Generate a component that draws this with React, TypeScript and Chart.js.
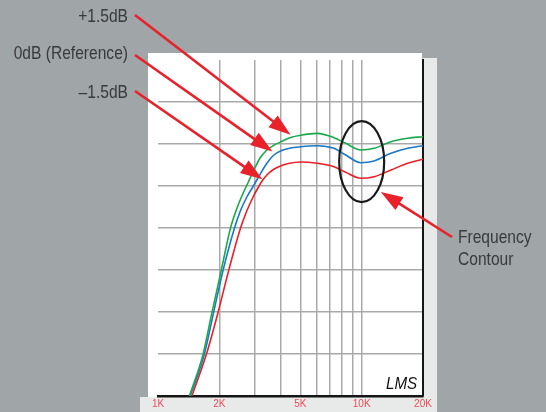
import { useEffect, useRef } from "react";
import { Chart, registerables } from "chart.js";

Chart.register(...registerables);

// ---- Data (frequency in Hz, level in dB) ----
const greenFreq = [1427, 1661, 1839, 2042, 2264, 2423, 2594, 2777, 2973, 3182, 3406, 3688, 4038, 4473, 5010, 6056, 7311, 8349, 9898, 11509, 13914, 16817, 20000];
const greenDb = [-40, -35.1, -30.1, -25.1, -20.1, -17.86, -16.07, -14.52, -12.98, -11.61, -10.77, -10.18, -9.7, -9.23, -8.95, -8.73, -9.25, -9.92, -10.71, -10.51, -9.73, -9.32, -9.13];

const blueFreq = [1438, 1686, 1873, 2084, 2369, 2536, 2730, 2939, 3146, 3330, 3504, 3709, 3993, 4372, 5010, 6056, 7311, 8349, 9898, 11509, 13914, 16817, 20000];
const blueDb = [-40, -35.1, -30.1, -25.1, -20.1, -17.98, -16.31, -15.0, -13.75, -12.74, -11.96, -11.31, -10.83, -10.54, -10.33, -10.2, -10.51, -11.31, -12.23, -12.02, -11.11, -10.51, -10.2];

const redFreq = [1466, 1725, 1969, 2221, 2536, 2715, 2906, 3093, 3255, 3445, 3688, 3993, 4372, 5010, 6056, 7311, 8349, 9898, 11509, 13914, 16817, 20000];
const redDb = [-40, -35.1, -30.1, -25.1, -20.1, -18.1, -16.49, -15.24, -14.35, -13.63, -13.04, -12.62, -12.32, -12.14, -12.3, -12.7, -13.37, -14.08, -13.89, -13.1, -12.3, -11.82];

const tickValues = [1000, 2000, 3000, 4000, 5000, 6000, 7000, 8000, 9000, 10000, 20000];
const labeledTicks = [1000, 2000, 5000, 10000, 20000];
const labelTexts = ["1K", "2K", "5K", "10K", "20K"];

const calloutTexts = ["+1.5dB", "0dB (Reference)", "\u20131.5dB"];
const calloutTargetFreq = [4473, 3646, 3254];
const calloutTargetDb = [-8.9, -10.9, -14.2];

const contourText = ["Frequency", "Contour"];
const contourTargetFreq = 12420;
const contourTargetDb = -15.7;
const ellipseFreq = 10000;
const ellipseDb = -12.1;

const SANS = '"Liberation Sans", Arial, sans-serif';

function drawArrow(ctx: CanvasRenderingContext2D, x1: number, y1: number, x2: number, y2: number) {
  const ang = Math.atan2(y2 - y1, x2 - x1);
  const hl = 22;
  const hw = 7.5;
  const bx = x2 - hl * Math.cos(ang);
  const by = y2 - hl * Math.sin(ang);
  ctx.beginPath();
  ctx.moveTo(x1, y1);
  ctx.lineTo(bx + 2 * Math.cos(ang), by + 2 * Math.sin(ang));
  ctx.stroke();
  ctx.beginPath();
  ctx.moveTo(x2, y2);
  ctx.lineTo(bx + hw * Math.sin(ang), by - hw * Math.cos(ang));
  ctx.lineTo(bx - hw * Math.sin(ang), by + hw * Math.cos(ang));
  ctx.closePath();
  ctx.fill();
}

function narrowText(ctx: CanvasRenderingContext2D, text: string, x: number, y: number, sx: number) {
  ctx.save();
  ctx.translate(x, y);
  ctx.scale(sx, 1);
  ctx.fillText(text, 0, 0);
  ctx.restore();
}

const decorPlugin = {
  id: "decor",
  beforeDraw(chart: any) {
    const ctx: CanvasRenderingContext2D = chart.ctx;
    const W = chart.width;
    const H = chart.height;
    ctx.save();
    ctx.fillStyle = "#a0a5a8";
    ctx.fillRect(0, 0, W, H);
    // shadow of the paper
    ctx.fillStyle = "#e8eaea";
    ctx.fillRect(422, 58, 15, H - 58);
    ctx.fillRect(140, 397, 297, H - 397);
    // paper
    ctx.fillStyle = "#ffffff";
    ctx.fillRect(148, 53, 274, 344);
    ctx.restore();
  },
  afterDraw(chart: any) {
    const ctx: CanvasRenderingContext2D = chart.ctx;
    const xs = chart.scales.x;
    const ys = chart.scales.y;
    ctx.save();

    // ellipse around the contour
    ctx.strokeStyle = "#1a1a1a";
    ctx.lineWidth = 2.2;
    ctx.beginPath();
    ctx.ellipse(xs.getPixelForValue(ellipseFreq), ys.getPixelForValue(ellipseDb), 22.5, 40.5, 0, 0, Math.PI * 2);
    ctx.stroke();

    // arrows
    ctx.strokeStyle = "#e8212b";
    ctx.fillStyle = "#e8212b";
    ctx.lineWidth = 2.6;
    const starts = [15, 55, 91];
    for (let i = 0; i < calloutTexts.length; i++) {
      drawArrow(ctx, 135, starts[i], xs.getPixelForValue(calloutTargetFreq[i]), ys.getPixelForValue(calloutTargetDb[i]));
    }
    drawArrow(ctx, 452, 237, xs.getPixelForValue(contourTargetFreq), ys.getPixelForValue(contourTargetDb));

    // texts
    ctx.fillStyle = "#383a3b";
    ctx.font = "19px " + SANS;
    ctx.textAlign = "right";
    ctx.textBaseline = "alphabetic";
    const baselines = [22, 59, 98];
    for (let i = 0; i < calloutTexts.length; i++) {
      narrowText(ctx, calloutTexts[i], 128, baselines[i], 0.82);
    }
    ctx.textAlign = "left";
    narrowText(ctx, contourText[0], 458, 243, 0.82);
    narrowText(ctx, contourText[1], 458, 265, 0.82);

    // signature
    ctx.fillStyle = "#111";
    ctx.font = "italic 16px " + SANS;
    ctx.textAlign = "left";
    narrowText(ctx, "LMS", 386, 389, 0.95);
    ctx.restore();
  },
};

export default function App() {
  const ref = useRef<HTMLCanvasElement | null>(null);
  useEffect(() => {
    document.body.style.margin = "0";
    const canvas = ref.current;
    if (!canvas) return;
    const chart = new Chart(canvas, {
      type: "line",
      data: {
        datasets: [
          {
            label: "+1.5dB",
            data: greenFreq.map((f, i) => ({ x: f, y: greenDb[i] })),
            borderColor: "#1aa84c",
          },
          {
            label: "0dB",
            data: blueFreq.map((f, i) => ({ x: f, y: blueDb[i] })),
            borderColor: "#1a78c4",
          },
          {
            label: "-1.5dB",
            data: redFreq.map((f, i) => ({ x: f, y: redDb[i] })),
            borderColor: "#ec1f27",
          },
        ],
      },
      options: {
        animation: false,
        responsive: false,
        devicePixelRatio: 1,
        layout: { padding: { left: 158, right: 123, top: 60, bottom: 0 } },
        plugins: { legend: { display: false }, tooltip: { enabled: false } },
        elements: {
          point: { radius: 0 },
          line: { borderWidth: 1.6, cubicInterpolationMode: "monotone", fill: false },
        },
        scales: {
          x: {
            type: "logarithmic",
            min: 1000,
            max: 20000,
            afterBuildTicks: (s: any) => {
              s.ticks = tickValues.map((v) => ({ value: v }));
            },
            ticks: {
              autoSkip: false,
              maxRotation: 0,
              minRotation: 0,
              padding: 2,
              color: "#ef4b55",
              font: { family: SANS, size: 10 },
              callback: (v: any) => {
                const i = labeledTicks.indexOf(Number(v));
                return i >= 0 ? labelTexts[i] : "";
              },
            },
            grid: {
              color: (c: any) =>
                c.tick && (c.tick.value === 1000 || c.tick.value === 20000) ? "rgba(0,0,0,0)" : "#a9a9a9",
              lineWidth: 1.5,
              drawTicks: false,
            },
            border: { display: true, color: "#151515", width: 2.5 },
          },
          y: {
            position: "right",
            min: -40,
            max: 0,
            ticks: { display: false, stepSize: 5 },
            grid: {
              color: (c: any) =>
                c.tick && (c.tick.value === 0 || c.tick.value === -40) ? "rgba(0,0,0,0)" : "#a9a9a9",
              lineWidth: 1.5,
              drawTicks: false,
            },
            border: { display: true, color: "#151515", width: 2 },
          },
        },
      },
      plugins: [decorPlugin],
    } as any);
    return () => chart.destroy();
  }, []);
  return (
    <div style={{ width: 546, height: 412 }}>
      <canvas ref={ref} width={546} height={412} style={{ display: "block" }} />
    </div>
  );
}
